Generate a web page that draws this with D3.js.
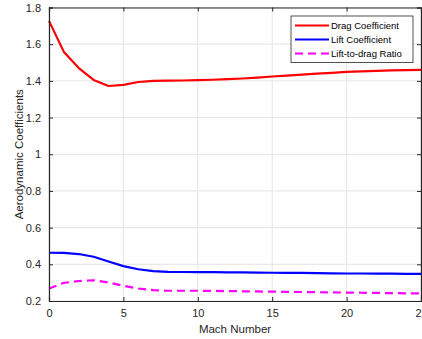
<!DOCTYPE html>
<html>
<head>
<meta charset="utf-8">
<script src="https://cdn.jsdelivr.net/npm/d3@7"></script>
<style>
  html, body { margin: 0; padding: 0; background: #fff; }
  svg { display: block; font-family: "Liberation Sans", Arial, sans-serif; }
</style>
</head>
<body>
<svg id="chart" width="422" height="339"></svg>
<script>
// Mach number samples
const mach = d3.range(0, 26);

// Aerodynamic coefficients vs. Mach number
const dragCoeff = [1.727, 1.558, 1.47, 1.405, 1.372, 1.378, 1.394, 1.400, 1.401, 1.402,
                   1.404, 1.406, 1.409, 1.413, 1.418, 1.424, 1.429, 1.434, 1.439, 1.444,
                   1.449, 1.452, 1.455, 1.457, 1.459, 1.460];
const liftCoeff = [0.463, 0.462, 0.456, 0.441, 0.415, 0.390, 0.373, 0.363, 0.359, 0.358,
                   0.357, 0.357, 0.356, 0.356, 0.355, 0.354, 0.353, 0.353, 0.352, 0.351,
                   0.350, 0.350, 0.349, 0.349, 0.348, 0.348];
const liftToDrag = [0.268, 0.299, 0.309, 0.313, 0.301, 0.283, 0.268, 0.259, 0.256, 0.256,
                    0.256, 0.255, 0.254, 0.253, 0.252, 0.251, 0.250, 0.249, 0.248, 0.247,
                    0.246, 0.245, 0.244, 0.243, 0.242, 0.241];

const seriesNames = ["Drag Coefficient", "Lift Coefficient", "Lift-to-drag Ratio"];
const seriesColors = ["#ff0000", "#0000ff", "#ff00ff"];
const seriesDash = [null, null, "8,5"];

const xTicks = [0, 5, 10, 15, 20, 25];
const yTicks = [0.2, 0.4, 0.6, 0.8, 1, 1.2, 1.4, 1.6, 1.8];

const xLabel = "Mach Number";
const yLabel = "Aerodynamic Coefficients";

const svg = d3.select("#chart");
const margin = { left: 49, right: 421, top: 7.5, bottom: 301 };

const x = d3.scaleLinear().domain([0, 25]).range([margin.left, margin.right]);
const y = d3.scaleLinear().domain([0.2, 1.8]).range([margin.bottom, margin.top]);

const axisColor = "#262626";
const gridColor = "#e5e5e5";

// grid
const grid = svg.append("g");
grid.selectAll(".gx").data(xTicks).join("line")
  .attr("x1", d => x(d)).attr("x2", d => x(d))
  .attr("y1", margin.top).attr("y2", margin.bottom)
  .attr("stroke", gridColor).attr("stroke-width", 1);
grid.selectAll(".gy").data(yTicks).join("line")
  .attr("x1", margin.left).attr("x2", margin.right)
  .attr("y1", d => y(d)).attr("y2", d => y(d))
  .attr("stroke", gridColor).attr("stroke-width", 1);

// series
const sets = [dragCoeff, liftCoeff, liftToDrag];
const line = d3.line().x((d, i) => x(mach[i])).y(d => y(d));
const lines = svg.append("g");
sets.forEach((vals, k) => {
  lines.append("path")
    .datum(vals)
    .attr("d", line)
    .attr("fill", "none")
    .attr("stroke", seriesColors[k])
    .attr("stroke-width", 2.2)
    .attr("stroke-linejoin", "round")
    .attr("stroke-dasharray", seriesDash[k]);
});

// axes (box with inward ticks on all sides)
const fmt = d => d3.format("~g")(d);
const tickLen = 4;
const axBottom = svg.append("g").attr("transform", `translate(0,${margin.bottom})`)
  .call(d3.axisBottom(x).tickValues(xTicks).tickSize(-tickLen).tickPadding(8).tickFormat(fmt));
const axTop = svg.append("g").attr("transform", `translate(0,${margin.top})`)
  .call(d3.axisTop(x).tickValues(xTicks).tickSize(-tickLen).tickFormat(""));
const axLeft = svg.append("g").attr("transform", `translate(${margin.left},0)`)
  .call(d3.axisLeft(y).tickValues(yTicks).tickSize(-tickLen).tickPadding(8).tickFormat(fmt));
const axRight = svg.append("g").attr("transform", `translate(${margin.right},0)`)
  .call(d3.axisRight(y).tickValues(yTicks).tickSize(-tickLen).tickFormat(""));

[axBottom, axTop, axLeft, axRight].forEach(a => {
  a.select(".domain").attr("stroke", axisColor).attr("stroke-width", 1.2);
  a.selectAll(".tick line").attr("stroke", axisColor).attr("stroke-width", 1);
  a.selectAll(".tick text").attr("fill", axisColor)
    .style("font-family", '"Liberation Sans", Arial, sans-serif').style("font-size", "11px");
});

// axis titles
svg.append("text")
  .attr("x", 235).attr("y", 333)
  .attr("text-anchor", "middle").attr("fill", axisColor)
  .style("font-size", "11.5px").text(xLabel);
svg.append("text")
  .attr("transform", `translate(22.5,${(margin.top + margin.bottom) / 2}) rotate(-90)`)
  .attr("text-anchor", "middle").attr("fill", axisColor)
  .style("font-size", "11.5px").text(yLabel);

// legend
const lg = svg.append("g").attr("transform", "translate(291,16)");
lg.append("rect").attr("x", 0).attr("y", 0).attr("width", 122).attr("height", 46.5)
  .attr("fill", "#fff").attr("stroke", axisColor).attr("stroke-width", 0.8);
seriesNames.forEach((name, k) => {
  const yy = 9.5 + k * 14;
  lg.append("line").attr("x1", 4).attr("x2", 38).attr("y1", yy).attr("y2", yy)
    .attr("stroke", seriesColors[k]).attr("stroke-width", 2.2)
    .attr("stroke-dasharray", seriesDash[k]);
  lg.append("text").attr("x", 40).attr("y", yy + 3.3)
    .attr("fill", "#000").style("font-size", "9.5px").text(name);
});
</script>
</body>
</html>
